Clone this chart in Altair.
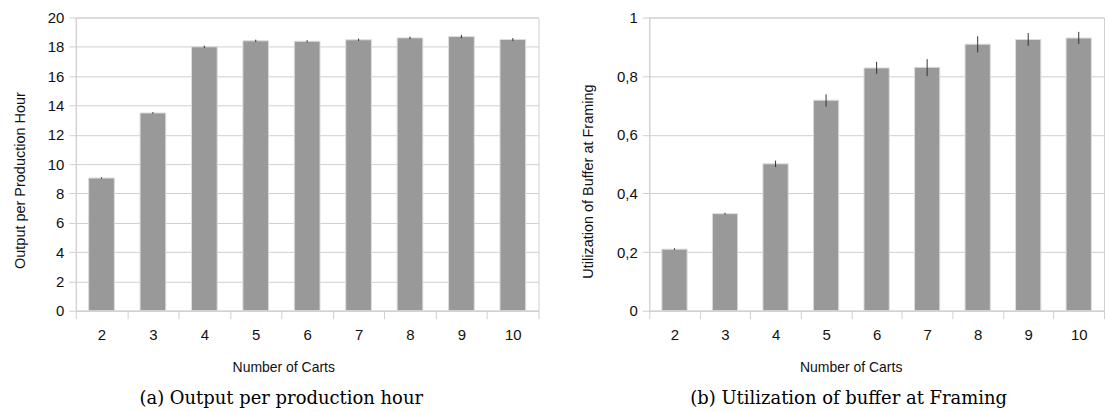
import altair as alt
import pandas as pd

# ---- data ----
carts = [2, 3, 4, 5, 6, 7, 8, 9, 10]

output_mean = [9.05, 13.49, 18.0, 18.41, 18.38, 18.48, 18.61, 18.7, 18.5]
output_lo = [9.0, 13.43, 17.92, 18.33, 18.31, 18.40, 18.52, 18.58, 18.40]
output_hi = [9.1, 13.55, 18.08, 18.49, 18.45, 18.56, 18.70, 18.82, 18.60]

util_mean = [0.21, 0.331, 0.501, 0.718, 0.828, 0.83, 0.909, 0.925, 0.93]
util_lo = [0.207, 0.328, 0.490, 0.696, 0.808, 0.800, 0.881, 0.903, 0.910]
util_hi = [0.213, 0.334, 0.512, 0.738, 0.849, 0.858, 0.936, 0.947, 0.951]

left_ticks = [0, 2, 4, 6, 8, 10, 12, 14, 16, 18, 20]
right_ticks = [0, 0.2, 0.4, 0.6, 0.8, 1.0]

df_out = pd.DataFrame({"carts": carts, "v": output_mean, "lo": output_lo, "hi": output_hi})
df_util = pd.DataFrame({"carts": carts, "v": util_mean, "lo": util_lo, "hi": util_hi})

GRID = "#d0d0d0"
BAR = "#999999"
SANS = "Liberation Sans"
SERIF = "DejaVu Serif"
TXT = "#111111"


def panel(df, ytitle, domain, ticks, label_expr, caption, width,
          title_x, title_y, xtitle_x, caption_dx):
    x_axis = alt.Axis(
        labelAngle=0, tickBand="extent", tickSize=8, labelPadding=9,
        domainColor=GRID, tickColor=GRID, grid=False,
        labelFont=SANS, labelFontSize=15, labelColor=TXT,
        titleFont=SANS, titleFontSize=14, titleFontWeight="normal", titleColor=TXT,
        titleX=xtitle_x, titleY=57, titleBaseline="middle", titleAlign="center",
    )
    y_axis = alt.Axis(
        values=ticks, labelExpr=label_expr, tickSize=7, labelPadding=5,
        gridColor=GRID, domainColor=GRID, tickColor=GRID,
        labelFont=SANS, labelFontSize=15, labelColor=TXT,
        titleFont=SANS, titleFontSize=14.5, titleFontWeight="normal", titleColor=TXT,
        titleX=title_x, titleY=title_y, titleAngle=-90,
        titleBaseline="middle", titleAlign="center",
    )
    x_scale = alt.Scale(paddingInner=0, paddingOuter=0)
    y_scale = alt.Scale(domain=domain, nice=False, zero=True)

    bars = alt.Chart(df).mark_bar(
        width={"band": 0.5}, color=BAR, stroke="#dcdcdc", strokeWidth=1
    ).encode(
        x=alt.X("carts:O", title="Number of Carts", scale=x_scale, axis=x_axis),
        y=alt.Y("v:Q", title=ytitle, scale=y_scale, axis=y_axis),
    )
    err = alt.Chart(df).mark_rule(color="#333333", strokeWidth=1).encode(
        x=alt.X("carts:O", title="Number of Carts", scale=x_scale, axis=x_axis),
        y=alt.Y("lo:Q", title=ytitle, scale=y_scale, axis=y_axis),
        y2="hi:Q",
    )
    return alt.layer(bars, err).properties(
        width=width,
        height=294,
        title=alt.TitleParams(
            caption, orient="bottom", anchor="middle", dx=caption_dx, offset=16,
            font=SERIF, fontSize=18, fontWeight="normal", color="black",
        ),
    )


left = panel(df_out, "Output per Production Hour", [0, 20], left_ticks,
             "format(datum.value, 'd')", "(a) Output per production hour",
             464, -55, 163, 208, -26)
right = panel(df_util, "Utilization of Buffer at Framing", [0, 1], right_ticks,
              "replace(format(datum.value, '.1~f'), '.', ',')",
              "(b) Utilization of buffer at Framing", 456, -61, 164, 202, -28)

chart = alt.hconcat(left, right, spacing=111, bounds="flush").properties(
    padding={"left": 12, "top": 9, "right": 0, "bottom": 0}
).configure(background="white").configure_view(stroke=GRID)

chart.save("out.html", embed_options={"renderer": "svg", "actions": False})
